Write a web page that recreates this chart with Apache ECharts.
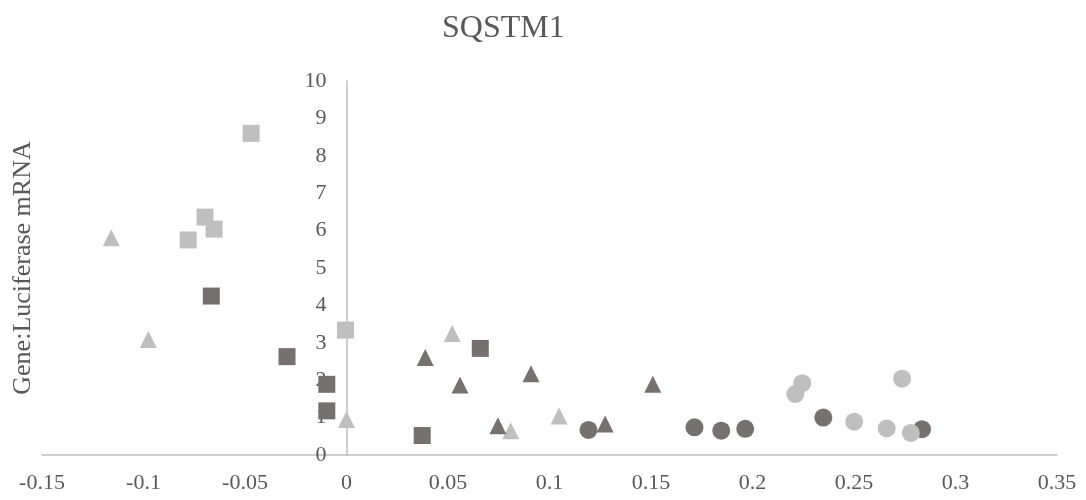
<!DOCTYPE html>
<html>
<head>
<meta charset="utf-8">
<script src="https://cdn.jsdelivr.net/npm/echarts@6/dist/echarts.min.js"></script>
<style>html,body{margin:0;padding:0;background:#fff;}#chart{width:1086px;height:500px;}</style>
</head>
<body>
<div id="chart"></div>
<script>
var chartTitle = 'SQSTM1';
var yAxisTitle = 'Gene:Luciferase mRNA';
var xTicks = [-0.15, -0.1, -0.05, 0, 0.05, 0.1, 0.15, 0.2, 0.25, 0.3, 0.35];
var yTicks = [0, 1, 2, 3, 4, 5, 6, 7, 8, 9, 10];

var darkSquares = [[-0.0666, 4.25], [-0.0293, 2.63], [-0.0097, 1.89], [-0.0097, 1.18], [0.0373, 0.52], [0.0659, 2.85]];
var lightSquares = [[-0.047, 8.6], [-0.0697, 6.36], [-0.0652, 6.04], [-0.078, 5.75], [-0.0005, 3.34]];
var lightTriangles = [[-0.1159, 5.81], [-0.0976, 3.09], [0.0, 0.95], [0.0521, 3.25], [0.0809, 0.65], [0.1047, 1.04]];
var darkTriangles = [[0.0388, 2.61], [0.0559, 1.87], [0.0909, 2.17], [0.1509, 1.89], [0.0746, 0.78], [0.1274, 0.83]];
var darkCircles = [[0.1192, 0.67], [0.1714, 0.74], [0.1846, 0.65], [0.1964, 0.70], [0.2349, 1.0], [0.2835, 0.69]];
var lightCircles = [[0.2245, 1.92], [0.2211, 1.63], [0.2737, 2.04], [0.2501, 0.89], [0.2661, 0.71], [0.278, 0.59]];

var DARK = '#767171', LIGHT = '#bfbfbf', TEXT = '#595959';
var FONT = '"Liberation Serif", "Times New Roman", serif';

var GRID_LEFT = 42, GRID_RIGHT = 29, W = 1086;
var xMin = xTicks[0], xMax = xTicks[xTicks.length - 1];
// place the y axis (line, labels and name) where x = 0
var yAxisOffset = -((0 - xMin) / (xMax - xMin)) * (W - GRID_LEFT - GRID_RIGHT);

function mk(name, data, symbol, color, size) {
  return { name: name, type: 'scatter', data: data, symbol: symbol, symbolSize: size,
    itemStyle: { color: color, opacity: 1 }, z: 3 };
}

var chart = echarts.init(document.getElementById('chart'));
chart.setOption({
  animation: false,
  backgroundColor: '#fff',
  title: { text: chartTitle, left: 437, top: 8,
    textStyle: { fontFamily: FONT, fontSize: 32, fontWeight: 'normal', color: TEXT } },
  grid: { left: GRID_LEFT, right: GRID_RIGHT, top: 81, bottom: 45, containLabel: false, outerBoundsMode: 'none' },
  xAxis: {
    type: 'value', min: xMin, max: xMax, interval: 0.05,
    axisLine: { show: true, onZero: true, lineStyle: { color: LIGHT, width: 1.5 } },
    axisTick: { show: false }, splitLine: { show: false },
    axisLabel: { color: TEXT, fontFamily: FONT, fontSize: 22, margin: 17,
      formatter: function (v) { return String(parseFloat(v.toFixed(2))); } }
  },
  yAxis: {
    type: 'value', min: yTicks[0], max: yTicks[yTicks.length - 1], interval: 1,
    position: 'left', offset: yAxisOffset,
    name: yAxisTitle, nameLocation: 'middle', nameGap: 310,
    nameTextStyle: { color: TEXT, fontFamily: FONT, fontSize: 26 },
    axisLine: { show: true, onZero: false, lineStyle: { color: LIGHT, width: 1.5 } },
    axisTick: { show: false }, splitLine: { show: false },
    axisLabel: { color: TEXT, fontFamily: FONT, fontSize: 22, margin: 20 }
  },
  series: [
    mk('Dark squares', darkSquares, 'rect', DARK, 17),
    mk('Light squares', lightSquares, 'rect', LIGHT, 17),
    mk('Light triangles', lightTriangles, 'triangle', LIGHT, 17),
    mk('Dark triangles', darkTriangles, 'triangle', DARK, 17),
    mk('Dark circles', darkCircles, 'circle', DARK, 18),
    mk('Light circles', lightCircles, 'circle', LIGHT, 18)
  ]
});
</script>
</body>
</html>
